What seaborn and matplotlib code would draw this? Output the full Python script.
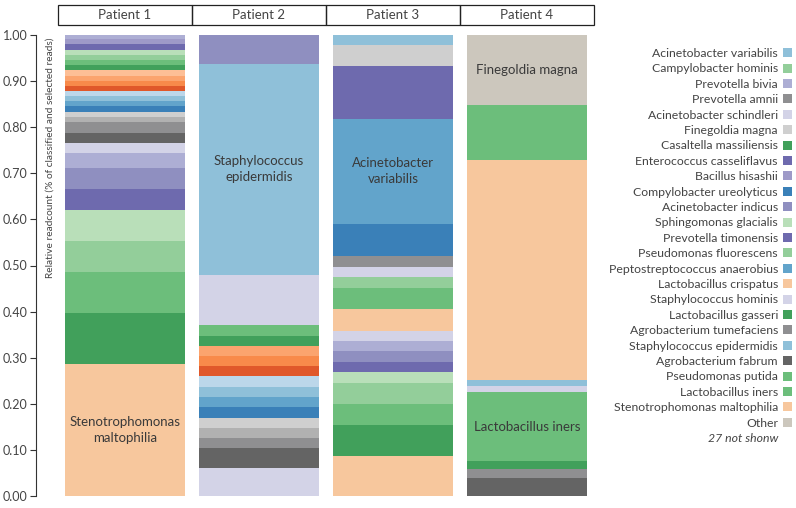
import matplotlib
matplotlib.use("Agg")
import matplotlib.pyplot as plt
import matplotlib.transforms as mtransforms
from matplotlib.patches import Patch, Rectangle
import numpy as np
import seaborn as sns

sns.set_theme(style="white")
plt.rcParams["font.family"] = ["Lato", "DejaVu Sans"]

patients = ["Patient 1", "Patient 2", "Patient 3", "Patient 4"]

# segment values, bottom to top
p1_values = [0.286, 0.112, 0.088, 0.067, 0.067, 0.045, 0.046, 0.033, 0.022, 0.022,
             0.024, 0.011, 0.011, 0.012, 0.011, 0.011, 0.011, 0.011, 0.011, 0.011,
             0.011, 0.012, 0.011, 0.011, 0.011, 0.012, 0.011, 0.011]
p2_values = [0.061, 0.043, 0.022, 0.022, 0.022, 0.022, 0.022, 0.022, 0.024, 0.022,
             0.022, 0.022, 0.022, 0.022, 0.110, 0.458, 0.065]
p3_values = [0.087, 0.067, 0.046, 0.045, 0.024, 0.022, 0.023, 0.023, 0.022, 0.046,
             0.047, 0.022, 0.023, 0.024, 0.069, 0.228, 0.115, 0.046, 0.022]
p4_values = [0.040, 0.018, 0.017, 0.150, 0.013, 0.013, 0.477, 0.121, 0.152]

# palette
pal = {
    "lav": "#d3d3e7", "lpur": "#adaed4", "pur": "#8f8fc0", "mpur": "#9e9ac8", "dpur": "#6e6aae",
    "lgrn": "#b9dfb9", "mgrn": "#93ce9a", "grn": "#6cbe7b", "dgrn": "#41a05b",
    "lorg": "#fdbf96", "org1": "#fba46e", "org2": "#f88a4a", "rorg": "#e0582a", "peach": "#f7c79d",
    "lblu": "#bcd7ea", "blu": "#8fc0d9", "mblu": "#62a4cb", "dblu": "#3a80b8",
    "lgry": "#cfcfcf", "gry": "#b1b1b1", "mgry": "#8f8f91", "dgry": "#646464",
    "other": "#ccc7bd",
}

p1_colors = ["peach", "dgrn", "grn", "mgrn", "lgrn", "dpur", "pur", "lpur", "lav", "dgry",
             "mgry", "gry", "lgry", "dblu", "mblu", "blu", "lblu", "rorg", "org2", "org1",
             "lorg", "dgrn", "grn", "mgrn", "lgrn", "dpur", "mpur", "lpur"]
p2_colors = ["lav", "dgry", "mgry", "gry", "lgry", "dblu", "mblu", "blu", "lblu", "rorg",
             "org2", "org1", "dgrn", "grn", "lav", "blu", "pur"]
p3_colors = ["peach", "dgrn", "grn", "mgrn", "lgrn", "dpur", "pur", "lpur", "lav", "peach",
             "grn", "mgrn", "lav", "mgry", "dblu", "mblu", "dpur", "lgry", "blu"]
p4_colors = ["dgry", "mgry", "dgrn", "grn", "lav", "blu", "peach", "grn", "other"]

# labels written inside bars: (patient index, segment index, text)
bar_labels = [
    (0, 0, "Stenotrophomonas\nmaltophilia"),
    (1, 15, "Staphylococcus\nepidermidis"),
    (2, 15, "Acinetobacter\nvariabilis"),
    (3, 8, "Finegoldia magna"),
    (3, 3, "Lactobacillus iners"),
]

legend_labels = [
    "Acinetobacter variabilis", "Campylobacter hominis", "Prevotella bivia", "Prevotella amnii",
    "Acinetobacter schindleri", "Finegoldia magna", "Casaltella massiliensis",
    "Enterococcus casseliflavus", "Bacillus hisashii", "Compylobacter ureolyticus",
    "Acinetobacter indicus", "Sphingomonas glacialis", "Prevotella timonensis",
    "Pseudomonas fluorescens", "Peptostreptococcus anaerobius", "Lactobacillus crispatus",
    "Staphylococcus hominis", "Lactobacillus gasseri", "Agrobacterium tumefaciens",
    "Staphylococcus epidermidis", "Agrobacterium fabrum", "Pseudomonas putida",
    "Lactobacillus iners", "Stenotrophomonas maltophilia", "Other",
]
legend_colors = ["blu", "mgrn", "lpur", "mgry", "lav", "lgry", "dgrn", "dpur", "mpur", "dblu",
                 "pur", "lgrn", "dpur", "mgrn", "mblu", "peach", "lav", "dgrn", "mgry", "blu",
                 "dgry", "grn", "grn", "peach", "other"]
not_shown = "27 not shonw"

text_color = "#444444"

fig = plt.figure(figsize=(7.96, 5.08), dpi=100)
ax = fig.add_axes([58 / 796, 12 / 508, 536 / 796, 461 / 508])

all_values = [p1_values, p2_values, p3_values, p4_values]
all_colors = [p1_colors, p2_colors, p3_colors, p4_colors]
bottoms_all = []
for i, (vals, cols) in enumerate(zip(all_values, all_colors)):
    bottoms = np.concatenate([[0], np.cumsum(vals)[:-1]])
    bottoms_all.append(bottoms)
    ax.bar([i] * len(vals), vals, bottom=bottoms, width=0.9,
           color=[pal[c] for c in cols], linewidth=0)

for pi, si, txt in bar_labels:
    y = bottoms_all[pi][si] + all_values[pi][si] / 2
    ax.text(pi, y, txt, ha="center", va="center", fontsize=9.5,
            color="#3a3a3a", linespacing=1.4)

# header boxes
trans = mtransforms.blended_transform_factory(ax.transData, ax.transAxes)
for i, name in enumerate(patients):
    ax.add_patch(Rectangle((i - 0.5, 1.0217), 1.0, 0.0434, transform=trans,
                           fill=False, edgecolor="#222222", linewidth=0.9, clip_on=False))
    ax.text(i, 1.0434, name, transform=trans, ha="center", va="center",
            fontsize=9.5, color=text_color)

ax.set_xlim(-0.5, 3.5)
ax.set_ylim(0, 1)
ax.set_yticks(np.arange(0, 1.01, 0.1))
ax.set_yticklabels([f"{v:.2f}" for v in np.arange(0, 1.01, 0.1)])
ax.set_xticks([])
for side in ["top", "right", "bottom"]:
    ax.spines[side].set_visible(False)
ax.spines["left"].set_position(("outward", 16))
ax.spines["left"].set_color("#333333")
ax.spines["left"].set_linewidth(0.8)
ax.tick_params(axis="y", direction="out", length=4, width=0.8, color="#333333",
               labelsize=9, labelcolor=text_color, left=True, pad=2)

fig.text(50 / 796, 1 - 38 / 508, "Relative readcount (% of classified and selected reads)",
         rotation=90, ha="center", va="top", fontsize=7.3, color=text_color)

handles = [Patch(facecolor=pal[c], edgecolor="none") for c in legend_colors]
handles.append(Patch(facecolor="none", edgecolor="none"))
leg = fig.legend(handles, legend_labels + [not_shown], loc="upper right",
                 bbox_to_anchor=(792 / 796, 1 - 48 / 508), frameon=False,
                 markerfirst=False, fontsize=8.8, handlelength=0.75, handleheight=0.75,
                 handletextpad=0.4, labelspacing=0.36, borderaxespad=0, borderpad=0)
for t in leg.get_texts():
    t.set_color(text_color)
leg.get_texts()[-1].set_fontstyle("italic")

fig.savefig("out.png", dpi=100)
